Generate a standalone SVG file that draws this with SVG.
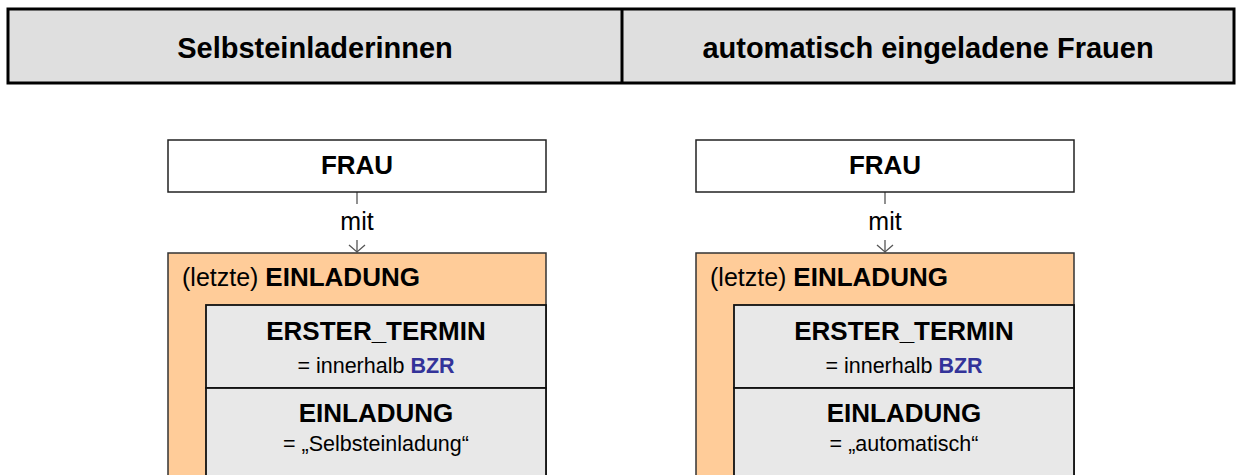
<svg xmlns="http://www.w3.org/2000/svg" width="1236" height="475" viewBox="0 0 1236 475">
<style>
text{font-family:"Liberation Sans",Arial,sans-serif;fill:#000}
.hdr{fill:#DFDFDF;stroke:#000;stroke-width:3}
.ht{font-size:29px;font-weight:bold;text-anchor:middle}
.frau{fill:#fff;stroke:#222;stroke-width:1.5}
.outer{fill:#FFCC99;stroke:#333;stroke-width:1.5}
.inner{fill:#E8E8E8;stroke:#111;stroke-width:1.8}
.b26{font-size:26px;font-weight:bold}
.r25{font-size:25px}
.s21{font-size:21.5px}
.c{text-anchor:middle}
.blue{fill:#333399;font-weight:bold}
.conn{stroke:#555;stroke-width:1.3;fill:none}
</style>
<defs>
<marker id="arr" viewBox="0 0 10 18" refX="9" refY="9" markerWidth="10" markerHeight="18" markerUnits="userSpaceOnUse" orient="auto">
<path d="M2,1 L9,9 L2,17" fill="none" stroke="#555" stroke-width="1.3"/>
</marker>
</defs>
<g id="header">
<rect class="hdr" x="8" y="9" width="1226" height="74"/>
<line x1="622" y1="9" x2="622" y2="83" stroke="#000" stroke-width="3"/>
<text class="ht" x="315" y="58">Selbsteinladerinnen</text>
<text class="ht" x="928" y="58">automatisch eingeladene Frauen</text>
</g>
<g id="connectors">
<line class="conn" x1="357" y1="192" x2="357" y2="204"/>
<line class="conn" x1="357" y1="240" x2="357" y2="252" marker-end="url(#arr)"/>
<text class="r25 c" x="357" y="230">mit</text>
<line class="conn" x1="885" y1="192" x2="885" y2="204"/>
<line class="conn" x1="885" y1="240" x2="885" y2="252" marker-end="url(#arr)"/>
<text class="r25 c" x="885" y="230">mit</text>
</g>
<g id="frau-left">
<rect class="frau" x="168" y="140" width="378" height="52"/>
<text class="b26 c" x="357" y="174">FRAU</text>
</g>
<g id="einladung-left">
<rect class="outer" x="168" y="253" width="378" height="240"/>
<text x="182" y="286"><tspan class="r25" font-size="26px">(letzte) </tspan><tspan class="b26">EINLADUNG</tspan></text>
</g>
<g id="erster-termin-left">
<rect class="inner" x="206" y="305" width="340" height="83"/>
<text class="b26 c" x="376" y="340">ERSTER_TERMIN</text>
<text class="s21 c" x="376" y="373">= innerhalb <tspan class="blue">BZR</tspan></text>
</g>
<g id="einladung-art-left">
<rect class="inner" x="206" y="388" width="340" height="105"/>
<text class="b26 c" x="376" y="422">EINLADUNG</text>
<text class="s21 c" x="376" y="451">= „Selbsteinladung“</text>
</g>
<g id="frau-right">
<rect class="frau" x="696" y="140" width="378" height="52"/>
<text class="b26 c" x="885" y="174">FRAU</text>
</g>
<g id="einladung-right">
<rect class="outer" x="696" y="253" width="378" height="240"/>
<text x="710" y="286"><tspan class="r25" font-size="26px">(letzte) </tspan><tspan class="b26">EINLADUNG</tspan></text>
</g>
<g id="erster-termin-right">
<rect class="inner" x="734" y="305" width="340" height="83"/>
<text class="b26 c" x="904" y="340">ERSTER_TERMIN</text>
<text class="s21 c" x="904" y="373">= innerhalb <tspan class="blue">BZR</tspan></text>
</g>
<g id="einladung-art-right">
<rect class="inner" x="734" y="388" width="340" height="105"/>
<text class="b26 c" x="904" y="422">EINLADUNG</text>
<text class="s21 c" x="904" y="451">= „automatisch“</text>
</g>
</svg>
